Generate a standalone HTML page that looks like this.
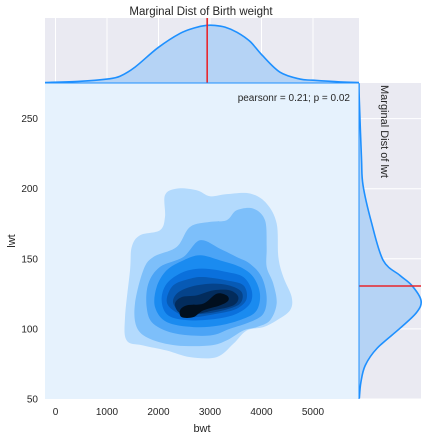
<!DOCTYPE html>
<html><head><meta charset="utf-8">
<style>
body{margin:0;background:#fff;font-family:"Liberation Sans",sans-serif;}
svg text{font-family:"Liberation Sans",sans-serif;fill:#262626;}
</style></head>
<body>
<svg id="c" width="428" height="438" xmlns="http://www.w3.org/2000/svg"></svg>
<script>
// ---- data ----
const xTicks=[0,1000,2000,3000,4000,5000];
const yTicks=[50,100,150,200,250];
const topKdeX=[-204,476,1000,1252,1544,1990,2417,2709,2922,3097,3291,3524,3777,4010,4359,4747,5000,5524,5893];
const topKdeY=[0,0.02,0.06,0.11,0.27,0.61,0.86,0.96,1.0,1.0,0.97,0.88,0.72,0.48,0.18,0.06,0.04,0.01,0];
const rightKdeY=[50.4,61.8,73.9,86.1,100.4,111.8,120.4,131.1,138.2,148.9,176.1,202.5,221.8,263.2,275];
const rightKdeX=[0.005,0.03,0.10,0.29,0.66,0.93,1.0,0.85,0.66,0.39,0.20,0.065,0.04,0.005,0];
const meanBwt=2945;
const meanLwt=130.6;
const levelColors=["#b3dafd","#7dbffa","#4ba4f6","#1a8bf0","#0a70dc","#075ab5","#05438a","#032c5c","#010f1e"];
const contour1=[[2126,195.4],[2353,200.1],[2741,198.9],[3000,194.6],[3324,196.1],[3777,196.6],[4100,189.4],[4295,175.1],[4327,151.3],[4424,137.0],[4586,122.7],[4553,113.2],[4295,106.1],[4036,101.3],[3712,98.9],[3453,89.4],[3130,79.9],[2612,79.9],[2159,84.6],[1706,88.2],[1382,91.8],[1350,108.4],[1447,141.8],[1480,158.4],[1641,166.8],[2029,170.4],[2126,179.9]];
const contour2=[[2611,172.7],[3000,176.3],[3323,177.5],[3517,184.6],[3841,185.8],[4068,177.5],[4100,158.4],[4100,144.2],[4229,132.2],[4294,118.0],[4165,106.1],[3906,101.3],[3647,98.9],[3323,91.8],[3000,88.2],[2352,88.2],[1835,92.9],[1576,101.3],[1543,118.0],[1705,141.8],[1899,151.3],[2352,158.4]];
const contour3=[[2805,163.2],[3194,157.2],[3517,151.3],[3776,146.5],[4003,137.0],[4100,122.7],[4035,110.8],[3776,104.9],[3388,100.1],[3000,95.3],[2352,96.5],[1899,103.7],[1770,115.6],[1802,132.2],[2029,144.2],[2482,151.3]];
const contour4=[[2805,152.5],[3194,148.9],[3582,144.2],[3841,137.0],[3970,125.1],[3906,113.2],[3647,107.2],[3194,102.5],[2676,101.3],[2158,104.9],[1932,115.6],[1964,129.9],[2158,141.8],[2482,148.9]];
const contour5=[[2870,143.0],[3323,140.6],[3647,137.0],[3809,127.5],[3776,118.0],[3517,110.8],[3129,107.2],[2611,106.1],[2191,109.6],[2061,120.3],[2158,132.2],[2482,140.6]];
const contour6=[[2870,137.0],[3323,134.6],[3647,131.1],[3711,121.5],[3517,114.4],[3129,110.8],[2611,108.4],[2288,113.2],[2158,120.3],[2288,131.1],[2611,135.8]];
const contour7=[[3000,132.2],[3356,131.1],[3614,126.3],[3582,118.0],[3258,113.2],[2870,110.8],[2482,110.8],[2288,118.0],[2352,125.1],[2611,129.9]];
const contour8=[[3064,127.5],[3388,127.5],[3550,122.7],[3453,116.8],[3064,113.2],[2741,110.8],[2417,111.3],[2320,118.0],[2450,122.7],[2741,123.9]];
const contour9=[[3129,125.1],[3323,123.9],[3356,120.3],[3194,116.8],[2870,113.2],[2676,108.4],[2450,108.4],[2417,113.2],[2547,116.8],[2870,118.0]];
const contours=[contour1,contour2,contour3,contour4,contour5,contour6,contour7,contour8,contour9];

// ---- layout ----
const L=45,R=359,T=83,B=399,TT=18,RR=421;
const xMin=-204,xMax=5893,yMin=50,yMax=275.4;
const sx=v=>L+(v-xMin)/(xMax-xMin)*(R-L);
const sy=v=>B-(v-yMin)/(yMax-yMin)*(B-T);
const topMax=1.13;
const sTop=d=>T-0.5-d/topMax*(T-0.5-TT);
const sRight=d=>R+d/1.0*(RR-R);

const svg=document.getElementById('c');
const NS="http://www.w3.org/2000/svg";
function mk(tag,attrs,parent){const e=document.createElementNS(NS,tag);for(const k in attrs)e.setAttribute(k,attrs[k]);(parent||svg).appendChild(e);return e;}
function smoothClosed(pts){
  const n=pts.length;let d=`M${pts[0][0]},${pts[0][1]}`;
  for(let i=0;i<n;i++){const p0=pts[(i-1+n)%n],p1=pts[i],p2=pts[(i+1)%n],p3=pts[(i+2)%n];
    const c1=[p1[0]+(p2[0]-p0[0])/6,p1[1]+(p2[1]-p0[1])/6],c2=[p2[0]-(p3[0]-p1[0])/6,p2[1]-(p3[1]-p1[1])/6];
    d+=`C${c1[0]},${c1[1]} ${c2[0]},${c2[1]} ${p2[0]},${p2[1]}`;}
  return d+'Z';}
function smoothOpen(pts){
  const n=pts.length;let d=`M${pts[0][0]},${pts[0][1]}`;
  for(let i=0;i<n-1;i++){const p0=pts[Math.max(i-1,0)],p1=pts[i],p2=pts[i+1],p3=pts[Math.min(i+2,n-1)];
    const c1=[p1[0]+(p2[0]-p0[0])/6,p1[1]+(p2[1]-p0[1])/6],c2=[p2[0]-(p3[0]-p1[0])/6,p2[1]-(p3[1]-p1[1])/6];
    d+=`C${c1[0]},${c1[1]} ${c2[0]},${c2[1]} ${p2[0]},${p2[1]}`;}
  return d;}

// top marginal
let e=mk('rect',{x:L,y:TT,width:R-L,height:T-TT,fill:'#eaeaf2'});

xTicks.forEach(t=>{const g=mk('line',{x1:sx(t),x2:sx(t),y1:TT,y2:T,stroke:'#fff','stroke-width':1});
});
const topPts=topKdeX.map((v,i)=>[sx(v),sTop(topKdeY[i])]);
const tl=smoothOpen(topPts);
e=mk('path',{d:tl+`L${sx(topKdeX[topKdeX.length-1])},${T}L${sx(topKdeX[0])},${T}Z`,fill:'#b5d3f5'});

e=mk('path',{d:tl,fill:'none',stroke:'#1e90ff','stroke-width':1.6});

e=mk('line',{x1:sx(meanBwt),x2:sx(meanBwt),y1:TT,y2:T,stroke:'#e8262c','stroke-width':1.6});


// right marginal
e=mk('rect',{x:R,y:T,width:RR-R,height:B-T,fill:'#eaeaf2'});

yTicks.forEach(t=>{const g=mk('line',{x1:R,x2:RR,y1:sy(t),y2:sy(t),stroke:'#fff','stroke-width':1});
});
const rPts=rightKdeY.map((v,i)=>[sRight(rightKdeX[i]),sy(v)]);
const rl=smoothOpen(rPts);
e=mk('path',{d:rl+`L${R},${sy(rightKdeY[rightKdeY.length-1])}L${R},${sy(rightKdeY[0])}Z`,fill:'#b5d3f5'});

e=mk('path',{d:rl,fill:'none',stroke:'#1e90ff','stroke-width':1.6});

e=mk('line',{x1:R,x2:RR,y1:sy(meanLwt),y2:sy(meanLwt),stroke:'#e8262c','stroke-width':1.6});

e=mk('text',{x:0,y:0,transform:`translate(381,${T+2}) rotate(90)`,'font-size':11});
e.textContent='Marginal Dist of lwt';


// main plot
e=mk('rect',{x:L,y:T,width:R-L,height:B-T,fill:'#e6f2fd'});

contours.forEach((c,i)=>{const p=mk('path',{d:smoothClosed(c.map(q=>[sx(q[0]),sy(q[1])])),fill:levelColors[i]});

});
e=mk('line',{x1:L,x2:R,y1:T,y2:T,stroke:'#1e90ff','stroke-width':1});

e=mk('line',{x1:R,x2:R,y1:T,y2:B,stroke:'#1e90ff','stroke-width':1});


// ticks
xTicks.forEach(t=>{const g=mk('text',{x:sx(t),y:415,'font-size':10,'text-anchor':'middle'});g.textContent=t;
});
yTicks.forEach(t=>{const g=mk('text',{x:38,y:sy(t)+3.5,'font-size':10,'text-anchor':'end'});g.textContent=t;
});
e=mk('text',{x:202,y:432,'font-size':11,'text-anchor':'middle'});e.textContent='bwt';

e=mk('text',{x:0,y:0,transform:'translate(15,241) rotate(-90)','font-size':11,'text-anchor':'middle'});e.textContent='lwt';

e=mk('text',{x:201,y:15,'font-size':11.5,'text-anchor':'middle'});e.textContent='Marginal Dist of Birth weight';

e=mk('text',{x:350,y:101,'font-size':10,'text-anchor':'end'});e.textContent='pearsonr = 0.21; p = 0.02';

</script>
</body></html>
